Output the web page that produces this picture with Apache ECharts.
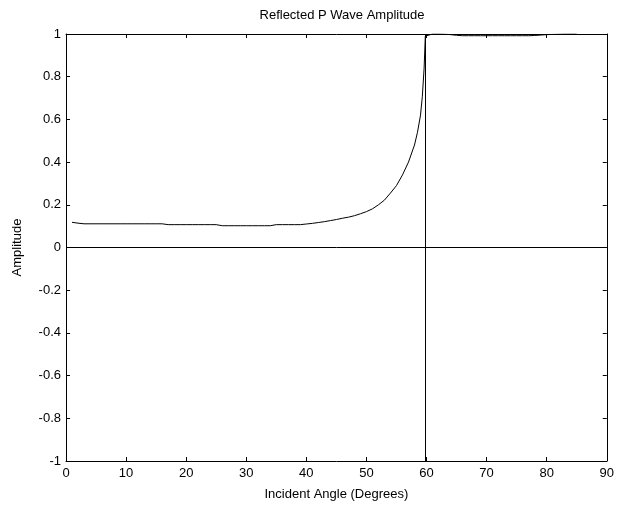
<!DOCTYPE html>
<html>
<head>
<meta charset="utf-8">
<script src="https://cdn.jsdelivr.net/npm/echarts@6/dist/echarts.min.js"></script>
<style>html,body{margin:0;padding:0;background:#fff}#c{width:617px;height:507px}</style>
</head>
<body>
<div id="c"></div>
<script>
var angles = [1,2,3,4,5,6,7,8,9,10,11,12,13,14,15,16,17,18,19,20,21,22,23,24,25,26,27,28,29,30,31,32,33,34,35,36,37,38,39,40,41,42,43,44,45,46,47,48,49,50,51,52,53,54,55,56,57,58,58.5,59,59.3,59.6,59.8,61,62,63,64,65,66,67,68,69,70,71,72,73,74,75,76,77,78,79,80,81,82,83,84,85];
var amplitudes = [0.118,0.114,0.111,0.111,0.111,0.111,0.111,0.111,0.111,0.111,0.111,0.111,0.111,0.111,0.111,0.111,0.107,0.107,0.107,0.107,0.107,0.107,0.107,0.107,0.107,0.102,0.102,0.102,0.102,0.102,0.102,0.102,0.102,0.102,0.107,0.107,0.107,0.107,0.107,0.110,0.113,0.117,0.121,0.126,0.131,0.137,0.142,0.149,0.158,0.168,0.181,0.200,0.222,0.255,0.290,0.340,0.400,0.480,0.540,0.620,0.706,0.840,0.990,1.000,1.000,0.999,0.997,0.994,0.992,0.992,0.992,0.992,0.992,0.992,0.992,0.992,0.992,0.992,0.992,0.992,0.993,0.995,0.997,0.998,0.999,1.000,1.000,1.000];
var criticalAngle = 59.8;
var xTicks = [0,10,20,30,40,50,60,70,80,90];
var yTicks = [-1,-0.8,-0.6,-0.4,-0.2,0,0.2,0.4,0.6,0.8,1];

var data = angles.map(function(a, i){ return [a, amplitudes[i]]; });
var font = 'Liberation Sans, Arial, sans-serif';
var black = '#000';
function yFmt(v){ return String(Math.round(v*10)/10); }

var chart = echarts.init(document.getElementById('c'), null, {renderer:'canvas'});
chart.setOption({
  animation:false,
  backgroundColor:'#fff',
  title:{text:'Reflected P Wave Amplitude', left:337, top:4, textAlign:'center',
    textStyle:{fontFamily:font, fontSize:13, fontWeight:'normal', color:black}},
  grid:{left:66, right:9, top:34, bottom:46, containLabel:false},
  xAxis:[
    {type:'value', position:'bottom', min:xTicks[0], max:xTicks[xTicks.length-1], interval:10,
     name:'Incident Angle (Degrees)', nameLocation:'middle', nameGap:27,
     nameTextStyle:{fontFamily:font, fontSize:13, color:black},
     axisLine:{onZero:false, lineStyle:{color:black, width:1}},
     axisTick:{inside:true, length:4, lineStyle:{color:black}},
     axisLabel:{fontFamily:font, fontSize:13, color:black, margin:6},
     splitLine:{show:false}},
    {type:'value', position:'top', min:xTicks[0], max:xTicks[xTicks.length-1], interval:10,
     axisLine:{onZero:false, lineStyle:{color:black, width:1}},
     axisTick:{inside:true, length:4, lineStyle:{color:black}},
     axisLabel:{show:false}, splitLine:{show:false}}
  ],
  yAxis:[
    {type:'value', position:'left', min:yTicks[0], max:yTicks[yTicks.length-1], interval:0.2,
     name:'Amplitude', nameLocation:'middle', nameGap:42, nameRotate:90,
     nameTextStyle:{fontFamily:font, fontSize:13, color:black},
     axisLine:{onZero:false, lineStyle:{color:black, width:1}},
     axisTick:{inside:true, length:4, lineStyle:{color:black}},
     axisLabel:{fontFamily:font, fontSize:13, color:black, margin:5, formatter:yFmt},
     splitLine:{show:false}},
    {type:'value', position:'right', min:yTicks[0], max:yTicks[yTicks.length-1], interval:0.2,
     axisLine:{onZero:false, lineStyle:{color:black, width:1}},
     axisTick:{inside:true, length:4, lineStyle:{color:black}},
     axisLabel:{show:false}, splitLine:{show:false}}
  ],
  series:[{
    type:'line', xAxisIndex:0, yAxisIndex:0, data:data, showSymbol:false,
    lineStyle:{color:black, width:1}, silent:true,
    markLine:{symbol:['none','none'], silent:true, label:{show:false},
      lineStyle:{color:black, width:1, type:'solid'},
      data:[{xAxis:criticalAngle},{yAxis:0}]}
  }]
});
</script>
</body>
</html>
